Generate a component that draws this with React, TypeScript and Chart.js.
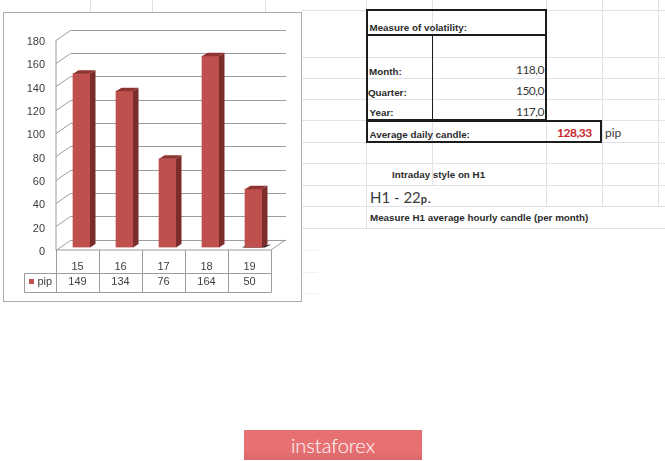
import { useRef, useEffect } from "react";
import type { CSSProperties } from "react";
import Chart from "chart.js/auto";

const days = ["15", "16", "17", "18", "19"];
const pipValues = [149, 134, 76, 164, 50];
const seriesName = "pip";

const volatilityLabels = ["Month:", "Quarter:", "Year:"];
const volatilityValues = ["118,0", "150,0", "117,0"];

const sheetRows = [10, 57, 78, 99, 120, 142, 163, 185, 206, 228];
const faintRows = [250, 272, 293];
const sheetCols = [366, 432, 546, 602, 658];
const colEnds = [228, 185, 206, 206, 206];
const labelTops = [72, 93, 112.5];
const labelLefts = [369, 368, 369.5];
const valueTops = [70, 91, 112];

const tickFont = '"Liberation Sans", Arial, sans-serif';
const gridColor = "#9c9c9c";

const sheet3d = {
    id: "sheet3d",
    beforeDatasetsDraw(chart: any) {
        const { ctx, scales } = chart;
        const y = scales.y;
        ctx.save();
        ctx.strokeStyle = gridColor;
        ctx.lineWidth = 1;
        // back wall lines plus the slanted bit on the side wall
        y.ticks.forEach((t: any) => {
            const py = Math.round(y.getPixelForValue(t.value));
            ctx.beginPath();
            ctx.moveTo(56, py + 2.5);
            ctx.lineTo(70.5, py - 7.5);
            ctx.lineTo(286, py - 7.5);
            ctx.stroke();
        });
        ctx.beginPath();
        ctx.moveTo(56, y.getPixelForValue(180) + 2.5);
        ctx.lineTo(56, y.getPixelForValue(0) + 2.5);
        ctx.lineTo(271, y.getPixelForValue(0) + 2.5);
        ctx.lineTo(285.5, y.getPixelForValue(0) - 7.5);
        ctx.stroke();

        // value labels sit on the front edge, not on the bar plane
        ctx.fillStyle = "#404040";
        ctx.font = `11px ${tickFont}`;
        ctx.textAlign = "right";
        ctx.textBaseline = "middle";
        y.ticks.forEach((t: any) => {
            ctx.fillText(String(t.value), 45, y.getPixelForValue(t.value) + 4.5);
        });
        ctx.restore();
    },
    afterDatasetsDraw(chart: any) {
        const { ctx, scales } = chart;
        const x = scales.x;
        const bars = chart.getDatasetMeta(0).data;
        ctx.save();
        bars.forEach((bar: any, i: number) => {
            const l = bar.x - bar.width / 2;
            const r = bar.x + bar.width / 2;
            const d = 5.5;
            const h = 3.5;
            if (i === bars.length - 1) {
                ctx.fillStyle = "#3a2a28";
                ctx.beginPath();
                ctx.moveTo(l - 3, bar.base);
                ctx.lineTo(l, bar.base - 1.5);
                ctx.lineTo(r + 9, bar.base - 3);
                ctx.lineTo(r + 3, bar.base);
                ctx.fill();
                ctx.fillStyle = "#c0504d";
                ctx.fillRect(l, bar.y, bar.width, bar.base - bar.y);
            }
            ctx.fillStyle = "#7b2d2b";
            ctx.beginPath();
            ctx.moveTo(r, bar.y);
            ctx.lineTo(r + d, bar.y - h);
            ctx.lineTo(r + d, bar.base - h);
            ctx.lineTo(r, bar.base);
            ctx.fill();
            ctx.fillStyle = "#8e3431";
            ctx.beginPath();
            ctx.moveTo(l, bar.y);
            ctx.lineTo(l + d, bar.y - h);
            ctx.lineTo(r + d, bar.y - h);
            ctx.lineTo(r, bar.y);
            ctx.fill();
        });

        // data table under the plot, same columns as the category scale
        const cols = days.map((_, i) => x.getPixelForValue(i) - 25.5);
        cols.push(271);
        ctx.strokeStyle = gridColor;
        ctx.lineWidth = 1;
        ctx.beginPath();
        ctx.moveTo(24.5, 273.5);
        ctx.lineTo(271, 273.5);
        ctx.moveTo(24.5, 292.5);
        ctx.lineTo(271, 292.5);
        ctx.moveTo(24.5, 273.5);
        ctx.lineTo(24.5, 292.5);
        cols.forEach((c: number) => {
            ctx.moveTo(Math.round(c) + 0.5, 250);
            ctx.lineTo(Math.round(c) + 0.5, 292.5);
        });
        ctx.stroke();

        ctx.fillStyle = "#404040";
        ctx.font = `11px ${tickFont}`;
        ctx.textAlign = "center";
        ctx.textBaseline = "middle";
        pipValues.forEach((v, i) => {
            ctx.fillText(String(v), x.getPixelForValue(i) - 4, 282);
        });
        ctx.textAlign = "left";
        ctx.fillText(seriesName, 37.5, 282);
        ctx.fillStyle = "#c0504d";
        ctx.fillRect(29, 279, 5, 5);
        ctx.restore();
    },
};

const bold: CSSProperties = {
    position: "absolute",
    font: `bold 9.8px ${tickFont}`,
    color: "#2b2b2b",
    whiteSpace: "nowrap",
    lineHeight: "12px",
    transform: "translateY(-6px)",
};

const cellValue: CSSProperties = {
    position: "absolute",
    font: "12px Lato, sans-serif",
    letterSpacing: "-0.5px",
    color: "#3a3a3a",
    lineHeight: "14px",
    transform: "translateY(-7px)",
};

const line = (left: number, top: number, width: number, height: number, background: string): CSSProperties => ({
    position: "absolute",
    left,
    top,
    width,
    height,
    background,
});

export default function App() {
    const canvasRef = useRef<HTMLCanvasElement | null>(null);

    useEffect(() => {
        if (!canvasRef.current) return;
        document.body.style.margin = "0";

        const chart = new Chart(canvasRef.current, {
            type: "bar",
            data: {
                labels: days,
                datasets: [
                    {
                        label: seriesName,
                        data: pipValues,
                        backgroundColor: "#c0504d",
                        barThickness: 17,
                    },
                ],
            },
            options: {
                animation: false,
                responsive: false,
                layout: { padding: { left: 0, top: 37.5, right: 390, bottom: 183.5 } },
                plugins: {
                    legend: { display: false },
                    title: { display: false },
                    tooltip: { enabled: false },
                },
                scales: {
                    x: {
                        grid: { display: false, drawTicks: false },
                        border: { display: false },
                        afterFit: (s: any) => {
                            s.height = 30;
                        },
                        ticks: {
                            color: "#404040",
                            font: { family: tickFont, size: 11 },
                            padding: 13,
                            labelOffset: -4,
                            maxRotation: 0,
                        },
                    },
                    y: {
                        min: 0,
                        max: 180,
                        grid: { display: false, drawTicks: false },
                        border: { display: false },
                        afterFit: (s: any) => {
                            s.width = 60;
                        },
                        ticks: {
                            display: false,
                            stepSize: 20,
                        },
                    },
                },
            },
            plugins: [sheet3d],
        });

        return () => chart.destroy();
    }, []);

    return (
        <div style={{ position: "relative", width: 665, height: 461, background: "#fff", overflow: "hidden" }}>
            {/* spreadsheet behind the chart */}
            {sheetRows.map((r) => (
                <div key={r} style={line(302, r, 363, 1, "#dfe3e8")} />
            ))}
            {faintRows.map((r) => (
                <div key={r} style={line(302, r, 16, 1, "#eef0f3")} />
            ))}
            {sheetCols.map((c, i) => (
                <div key={c} style={line(c, 0, 1, colEnds[i], "#dfe3e8")} />
            ))}
            {[90, 152, 265].map((c) => (
                <div key={c} style={line(c, 0, 1, 12, "#dfe3e8")} />
            ))}
            <div style={{ ...line(3, 12, 299, 290, "#fff"), boxSizing: "border-box", border: "1px solid #a9adb3" }} />

            {/* thick table borders */}
            <div style={{ ...line(366, 9, 181, 27, "transparent"), boxSizing: "border-box", border: "2px solid #1c1c1c" }} />
            <div style={{ ...line(366, 35, 181, 86, "transparent"), boxSizing: "border-box", border: "2px solid #1c1c1c", borderTop: "none" }} />
            <div style={line(432, 35, 1, 85, "#1c1c1c")} />
            <div style={{ ...line(366, 120, 236, 23, "transparent"), boxSizing: "border-box", border: "2px solid #1c1c1c" }} />

            <div style={{ ...bold, left: 369.5, top: 27.5 }}>Measure of volatility:</div>
            {volatilityLabels.map((label, i) => (
                <div key={label} style={{ ...bold, left: labelLefts[i], top: labelTops[i] }}>
                    {label}
                </div>
            ))}
            {volatilityValues.map((value, i) => (
                <div key={value} style={{ ...cellValue, right: 121, top: valueTops[i] }}>
                    {value}
                </div>
            ))}
            <div style={{ ...bold, left: 369.5, top: 134.5 }}>Average daily candle:</div>
            <div style={{ ...cellValue, left: 557, top: 133, fontWeight: 700, color: "#c8242c" }}>128,33</div>
            <div style={{ ...cellValue, left: 605, top: 133, letterSpacing: 0 }}>pip</div>
            <div style={{ ...bold, left: 392, top: 174.5 }}>Intraday style on H1</div>
            <div style={{ ...cellValue, left: 370, top: 197, fontSize: 15, letterSpacing: 0, lineHeight: "18px", transform: "translateY(-9px)" }}>
                H1 - 22<span style={{ fontSize: 11, fontWeight: 700, letterSpacing: "1px" }}>p.</span>
            </div>
            <div style={{ ...bold, left: 370, top: 218 }}>Measure H1 average hourly candle (per month)</div>

            <canvas ref={canvasRef} width={665} height={461} style={{ position: "absolute", left: 0, top: 0 }} />

            <div
                style={{
                    ...line(244, 430, 178, 30, "linear-gradient(#e77073, #e77073 70%, #d9686a)"),
                    color: "#fff",
                    font: "300 20px Lato, sans-serif",
                    lineHeight: "30px",
                    textAlign: "center",
                }}
            >
                instaforex
            </div>
        </div>
    );
}
